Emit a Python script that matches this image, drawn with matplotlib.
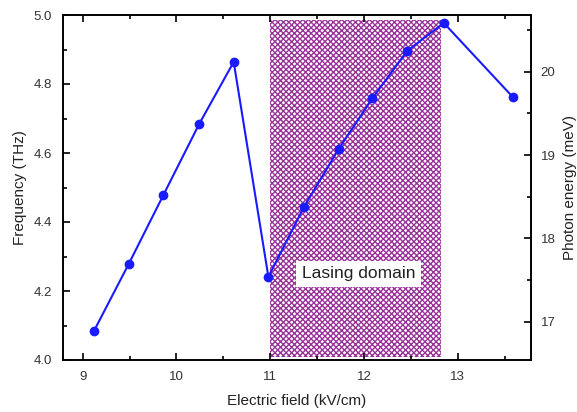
import matplotlib.pyplot as plt
import matplotlib as mpl

plt.rcParams['font.family'] = ['Liberation Sans', 'DejaVu Sans']
plt.rcParams['hatch.linewidth'] = 1.0

field = [9.12, 9.49, 9.86, 10.24, 10.61, 10.98, 11.36, 11.73, 12.09, 12.46, 12.85, 13.59]
freq = [4.084, 4.278, 4.478, 4.683, 4.864, 4.241, 4.444, 4.612, 4.759, 4.896, 4.977, 4.761]
lasing_start, lasing_end = 11.0, 12.82
thz_to_mev = 4.1357

fig = plt.figure(figsize=(5.77, 4.12), dpi=100)
ax = fig.add_axes([63 / 577, 52 / 412, 468 / 577, 345 / 412])

ax.fill_between([lasing_start, lasing_end], 4.01, 4.985, facecolor='white',
                edgecolor='#9a3399', hatch='xxxxxx', linewidth=0, zorder=1)
ax.plot(field, freq, color='#1a1aff', linewidth=1.5, marker='o',
        markersize=6, zorder=3)
ax.text(11.94, 4.25, 'Lasing domain', ha='center', va='center', fontsize=12.5,
        color='#222222', zorder=4,
        bbox=dict(facecolor='white', edgecolor='none', pad=4))

ax.set_xlim(8.79, 13.78)
ax.set_ylim(4.0, 5.0)
ax.xaxis.set_major_locator(mpl.ticker.MultipleLocator(1))
ax.xaxis.set_minor_locator(mpl.ticker.MultipleLocator(0.5))
ax.yaxis.set_major_locator(mpl.ticker.MultipleLocator(0.2))
ax.yaxis.set_minor_locator(mpl.ticker.MultipleLocator(0.1))
ax.yaxis.set_major_formatter(mpl.ticker.FormatStrFormatter('%.1f'))
ax.tick_params(which='both', direction='in', top=True, right=False,
               labelsize=9.5, width=1.2, labelcolor='#333333')
ax.tick_params(which='major', length=5, pad=8)
ax.tick_params(which='minor', length=3)
ax.set_xlabel('Electric field (kV/cm)', fontsize=11, color='#222222', labelpad=8)
ax.set_ylabel('Frequency (THz)', fontsize=11, color='#222222', labelpad=5)
for s in ax.spines.values():
    s.set_linewidth(1.2)

ax2 = ax.twinx()
ax2.set_ylim(4.0 * thz_to_mev, 5.0 * thz_to_mev)
ax2.yaxis.set_major_locator(mpl.ticker.MultipleLocator(1))
ax2.yaxis.set_minor_locator(mpl.ticker.MultipleLocator(0.5))
ax2.tick_params(which='both', direction='in', labelsize=9.5, width=1.2,
                labelcolor='#333333')
ax2.tick_params(which='major', length=5, pad=7)
ax2.tick_params(which='minor', length=3)
ax2.set_ylabel('Photon energy (meV)', fontsize=11, color='#222222', labelpad=5)
for s in ax2.spines.values():
    s.set_linewidth(1.2)

fig.savefig('out.png', dpi=100)
